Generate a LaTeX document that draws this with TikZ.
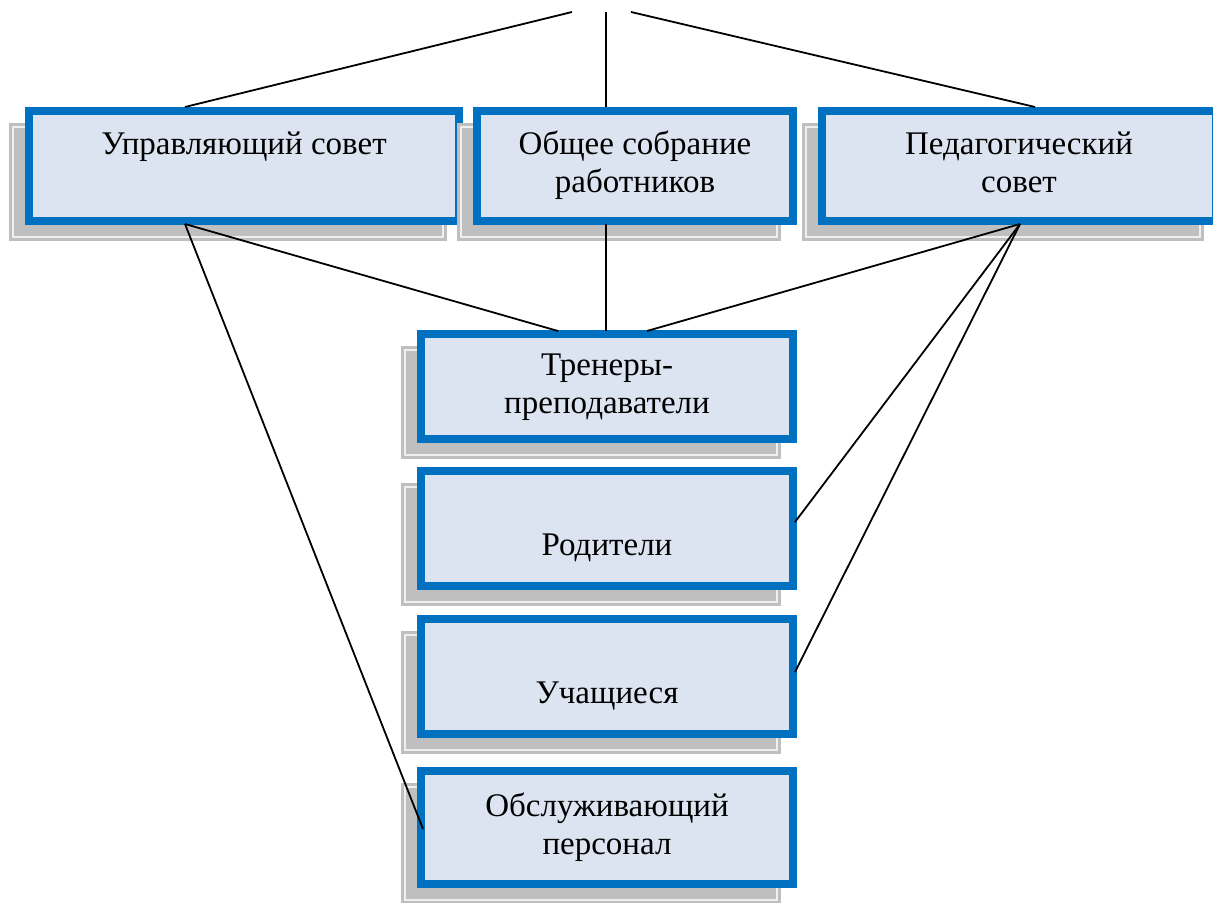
\documentclass[tikz,border=0pt]{standalone}
\usepackage{fontspec}
\setmainfont{Liberation Serif}
\usetikzlibrary{shadows,positioning}
\definecolor{boxblue}{HTML}{0070C0}
\definecolor{boxfill}{HTML}{DBE4F0}
\definecolor{shadowgray}{HTML}{BFBFBF}
\definecolor{shadowline}{HTML}{EFEFEF}
\tikzset{
  unit/.style={draw=boxblue, line width=4pt, fill=boxfill, align=center, inner sep=0pt,
    font=\fontsize{16.5}{19}\selectfont,
    general shadow={shadow xshift=-8pt, shadow yshift=-8pt, fill=shadowgray, draw=shadowgray,
      line width=1.6pt, double=shadowline, double distance=0.6pt}},
  link/.style={line width=0.9pt, black},
}
\begin{document}
\begin{tikzpicture}[x=0.5pt, y=-0.5pt]

\useasboundingbox (0,0) rectangle (1213,903);

% top row
\node [unit, minimum width=215pt, minimum height=55pt] (us) at (244,166) {\strut Управляющий совет\\\strut};
\node [unit, minimum width=158pt, minimum height=55pt] (os) at (635,166) {\strut Общее собрание\\\strut работников};
\node [unit, minimum width=197pt, minimum height=55pt] (ps) at (1019,166) {\strut Педагогический\\\strut совет};

% column
\node [unit, minimum width=186pt, minimum height=52.5pt] (tp) at (607,386.5) {\strut Тренеры-\\\strut преподаватели};
\node [unit, minimum width=186pt, minimum height=57.5pt] (rod) at (607,528.5) {\strut\\\strut Родители};
\node [unit, minimum width=186pt, minimum height=57.5pt] (uch) at (607,676.5) {\strut\\\strut Учащиеся};
\node [unit, minimum width=186pt, minimum height=56.5pt] (obs) at (607,827.5) {\strut Обслуживающий\\\strut персонал};

% free ends at the top
\coordinate (t1) at (572,12);
\coordinate (t2) at (606,12);
\coordinate (t3) at (631,12);

\draw [link] (t1) -- ([shift={(-59,0)}]us.north);
\draw [link] (t2) -- ([shift={(-29,0)}]os.north);
\draw [link] (t3) -- ([shift={(16,0)}]ps.north);

\draw [link] ([shift={(-59,-1)}]us.south) -- ([shift={(-49,1)}]tp.north);
\draw [link] ([shift={(-29,-1)}]os.south) -- ([shift={(-1,1)}]tp.north);
\draw [link] ([shift={(1,-1)}]ps.south) -- ([shift={(40,1)}]tp.north);

\draw [link] ([shift={(-59,-1)}]us.south) -- ([shift={(6,1.5)}]obs.west);
\draw [link] ([shift={(1,-1)}]ps.south) -- ([shift={(-2,-6.5)}]rod.east);
\draw [link] ([shift={(1,-1)}]ps.south) -- ([shift={(-2,-4.5)}]uch.east);

\end{tikzpicture}
\end{document}
